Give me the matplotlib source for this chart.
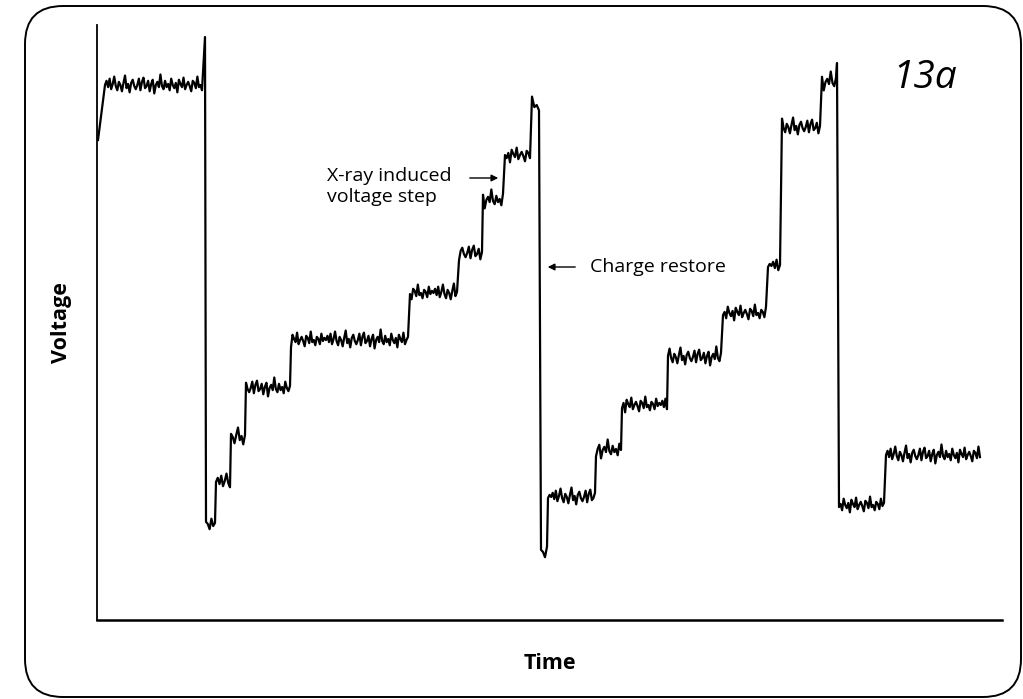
import numpy as np
import matplotlib.pyplot as plt
from matplotlib.patches import FancyBboxPatch

plt.rcParams['font.family'] = ['Open Sans', 'DejaVu Sans']

# plateaus of the trace: start time, end time, voltage level
seg_start = [8, 109, 119, 134, 149, 194, 313, 362, 386, 408, 435, 444, 451,
             499, 525, 571, 626, 671, 685, 725, 742, 789]
seg_end = [105, 118, 133, 148, 193, 311, 360, 385, 406, 433, 442, 450, 498,
           524, 570, 624, 669, 683, 723, 739, 787, 883]
seg_level = [535, 95, 138, 183, 232, 280, 327, 367, 420, 465, 515, 67, 123,
             170, 215, 263, 307, 354, 493, 538, 115, 165]

# single points outside the plateaus (start ramp and spikes before the drops)
extra_t = [1, 108, 740]
extra_v = [480, 583, 557]

# small wiggle, repeated along each plateau
wiggle = [0, 4, -2, 6, -4, 1, 8, -1, -5, 3, 0, -6, 2, 9, -3, 1, -7, 2, 5, -1,
          -4, 0, 6, -5, 3, 7, -3, -1, 4, -6, 1, 5, -8, 0, 3, -2, 10, -1, -4, 4,
          -2, 1, -5, 6, 0, -3, 2, -7, 5, 1, -2, 7, -4, 0, 3, -1, -6, 4, 2, -3,
          8, -2, 0, -5, 3, 1, -4, 6, -1, 2]

t_all, v_all = [], []
k = 0
for s, e, lv in zip(seg_start, seg_end, seg_level):
    n = max(int((e - s) / 1.5), 2)
    for t in np.linspace(s, e, n):
        t_all.append(t)
        v_all.append(lv + 1.05 * wiggle[k % len(wiggle)])
        k += 1
t_all += extra_t
v_all += extra_v
order = np.argsort(t_all)
t_all = np.array(t_all)[order]
v_all = np.array(v_all)[order]

fig = plt.figure(figsize=(10.23, 6.99), dpi=100)

# rounded frame around the whole figure
bg = fig.add_axes([0, 0, 1, 1])
bg.set_xlim(0, 1023)
bg.set_ylim(699, 0)
bg.axis('off')
bg.add_patch(FancyBboxPatch((25, 6), 996, 691, boxstyle="round,pad=0,rounding_size=38",
                            fc='white', ec='black', lw=1.4))

ax = fig.add_axes([97 / 1023, 79 / 699, 905 / 1023, 595 / 699])
ax.patch.set_alpha(0)
ax.plot(t_all, v_all, color='black', lw=1.6)
ax.set_xlim(0, 905)
ax.set_ylim(0, 595)
ax.spines['top'].set_visible(False)
ax.spines['right'].set_visible(False)
ax.spines['left'].set_linewidth(1.3)
ax.spines['bottom'].set_linewidth(1.8)
ax.set_xticks([])
ax.set_yticks([])
ax.set_xlabel("Time", fontsize=15.5, fontweight='bold', labelpad=24)
ax.set_ylabel("Voltage", fontsize=15.5, fontweight='bold', labelpad=18)

ax.annotate("", xy=(404, 442), xytext=(370, 442),
            arrowprops=dict(arrowstyle='-|>', color='black', lw=1, mutation_scale=10))
ax.text(230, 453, "X-ray induced\nvoltage step", fontsize=14, ha='left', va='top',
        linespacing=1.25)
ax.annotate("", xy=(448, 353), xytext=(481, 353),
            arrowprops=dict(arrowstyle='-|>', color='black', lw=1, mutation_scale=10))
ax.text(493, 353, "Charge restore", fontsize=14, ha='left', va='center')
ax.text(795, 542, "13a", fontsize=28, style='italic', ha='left', va='center')

fig.savefig("out.png", dpi=100)
